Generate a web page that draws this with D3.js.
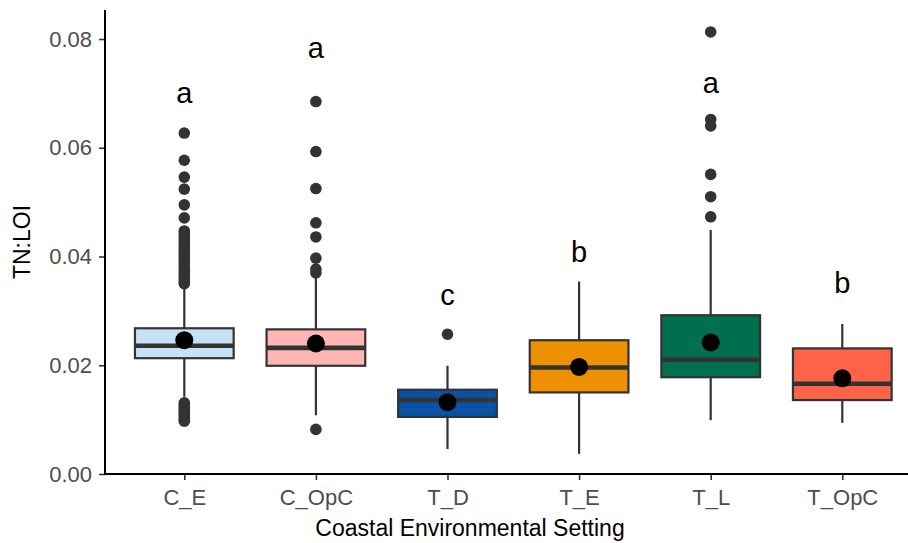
<!DOCTYPE html>
<html><head><meta charset="utf-8">
<script src="https://cdn.jsdelivr.net/npm/d3@7"></script>
<style>body{margin:0;background:#fff}svg{display:block}</style>
</head><body>
<svg id="chart" width="908" height="543"></svg>
<script>
const categories = ["C_E", "C_OpC", "T_D", "T_E", "T_L", "T_OpC"];
const fillColors = ["#C6E0F5", "#FFB5B3", "#0A52A5", "#EE9000", "#006F50", "#FF6347"];
const lowerWhisker = [0.0142, 0.0108, 0.0046, 0.0037, 0.0099, 0.0094];
const q1 = [0.0213, 0.0199, 0.0105, 0.0150, 0.0178, 0.0136];
const medians = [0.0236, 0.0232, 0.0136, 0.0196, 0.0210, 0.0166];
const q3 = [0.0268, 0.0266, 0.0155, 0.0246, 0.0292, 0.0231];
const upperWhisker = [0.0341, 0.0362, 0.0199, 0.0354, 0.0449, 0.0276];
const means = [0.0246, 0.0240, 0.0132, 0.0197, 0.0242, 0.0176];
const outliersCE = [0.0627, 0.0577, 0.0546, 0.0524, 0.0495, 0.0471,
  0.0447, 0.0443, 0.0438, 0.0433, 0.0428, 0.0423, 0.0418, 0.0413, 0.0408, 0.0403,
  0.0398, 0.0393, 0.0388, 0.0383, 0.0378, 0.0373, 0.0368, 0.0363, 0.0358, 0.0354, 0.0350,
  0.0131, 0.0127, 0.0123, 0.0119, 0.0115, 0.0111, 0.0107, 0.0103, 0.0100, 0.0097];
const outliersCOpC = [0.0685, 0.0593, 0.0525, 0.0462, 0.0436, 0.0397, 0.0377, 0.0370, 0.0082];
const outliersTD = [0.0257];
const outliersTE = [];
const outliersTL = [0.0813, 0.0652, 0.0640, 0.0551, 0.0510, 0.0473];
const outliersTOpC = [];
const outliers = [outliersCE, outliersCOpC, outliersTD, outliersTE, outliersTL, outliersTOpC];
const letters = ["a", "a", "c", "b", "a", "b"];
const letterY = [0.0700, 0.0784, 0.0329, 0.0408, 0.0720, 0.0351];
const yTicks = [0, 0.02, 0.04, 0.06, 0.08];
const yTickLabels = ["0.00", "0.02", "0.04", "0.06", "0.08"];

const svg = d3.select("#chart");
const font = "'Liberation Sans', Arial, Helvetica, sans-serif";
const axisX = 105, axisY = 474;

const x = d3.scalePoint().domain(categories).range([184.3, 842.3]);
const y = d3.scaleLinear().domain([0, 0.08]).range([474, 39]);
const boxW = (x(categories[1]) - x(categories[0])) * 0.75;
const yTop = y.invert(10);

// axes
const yAxis = d3.axisLeft(y).tickValues(yTicks).tickFormat((d, i) => yTickLabels[i]).tickSize(6).tickPadding(7);
const gy = svg.append("g").attr("transform", `translate(${axisX},0)`).call(yAxis);
gy.select(".domain").remove();
gy.selectAll(".tick line").attr("stroke", "#333").attr("stroke-width", 1.6);
gy.selectAll(".tick text").attr("fill", "#4D4D4D").style("font-family", font).style("font-size", "22px");

const xAxis = d3.axisBottom(x).tickSize(6).tickPadding(9);
const gx = svg.append("g").attr("transform", `translate(0,${axisY})`).call(xAxis);
gx.select(".domain").remove();
gx.selectAll(".tick line").attr("stroke", "#333").attr("stroke-width", 1.6);
gx.selectAll(".tick text").attr("fill", "#4D4D4D").style("font-family", font).style("font-size", "22px");

svg.append("line").attr("x1", axisX).attr("x2", axisX).attr("y1", y(yTop)).attr("y2", axisY + 1)
  .attr("stroke", "#000").attr("stroke-width", 2);
svg.append("line").attr("x1", axisX - 1).attr("x2", 908).attr("y1", axisY).attr("y2", axisY)
  .attr("stroke", "#000").attr("stroke-width", 2);

// boxplots
const groups = svg.append("g").selectAll("g").data(categories).join("g");
groups.each(function(c, i) {
  const g = d3.select(this);
  const cx = x(c);
  g.selectAll("circle.out").data(outliers[i]).join("circle").attr("class", "out")
    .attr("cx", cx).attr("cy", d => y(d)).attr("r", 5.8).attr("fill", "#333");
  g.append("line").attr("x1", cx).attr("x2", cx).attr("y1", y(q3[i])).attr("y2", y(upperWhisker[i]))
    .attr("stroke", "#333").attr("stroke-width", 2.2);
  g.append("line").attr("x1", cx).attr("x2", cx).attr("y1", y(q1[i])).attr("y2", y(lowerWhisker[i]))
    .attr("stroke", "#333").attr("stroke-width", 2.2);
  g.append("rect").attr("x", cx - boxW / 2).attr("width", boxW)
    .attr("y", y(q3[i])).attr("height", y(q1[i]) - y(q3[i]))
    .attr("fill", fillColors[i]).attr("stroke", "#333").attr("stroke-width", 2.2);
  g.append("line").attr("x1", cx - boxW / 2).attr("x2", cx + boxW / 2)
    .attr("y1", y(medians[i])).attr("y2", y(medians[i]))
    .attr("stroke", "#333").attr("stroke-width", 4.6);
  g.append("circle").attr("cx", cx).attr("cy", y(means[i])).attr("r", 9).attr("fill", "#000");
  g.append("text").attr("x", cx).attr("y", y(letterY[i])).attr("dy", 10)
    .attr("text-anchor", "middle").style("font-family", font).style("font-size", "29px")
    .attr("fill", "#000").text(letters[i]);
});

// titles
svg.append("text").attr("x", 470).attr("y", 536).attr("text-anchor", "middle")
  .style("font-family", font).style("font-size", "23px").attr("fill", "#000")
  .text("Coastal Environmental Setting");
svg.append("text").attr("transform", `translate(30,242) rotate(-90)`)
  .attr("text-anchor", "middle").style("font-family", font).style("font-size", "23px")
  .attr("fill", "#000").text("TN:LOI");
</script>
</body></html>
